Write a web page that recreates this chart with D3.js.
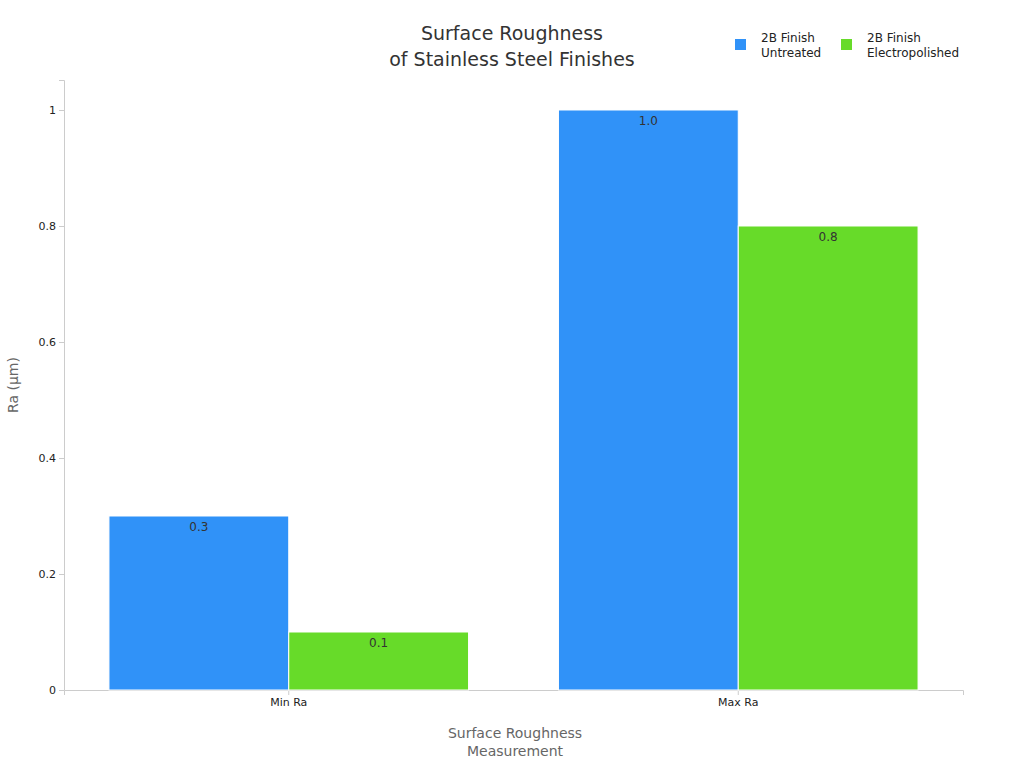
<!DOCTYPE html>
<html><head><meta charset="utf-8">
<script src="https://cdn.jsdelivr.net/npm/d3@7"></script>
<style>body{margin:0;background:#fff}text{font-family:"DejaVu Sans",sans-serif}</style>
</head><body><svg id="chart" width="1024" height="768"></svg>
<script>
const categories = ["Min Ra", "Max Ra"];
const seriesNames = ["2B Finish\nUntreated", "2B Finish\nElectropolished"];
const untreated = [0.3, 1.0];
const electropolished = [0.1, 0.8];
const yTicks = [0, 0.2, 0.4, 0.6, 0.8, 1];
const colors = ["#3092f8", "#67db29"];

const svg = d3.select("#chart");
const m = {l: 64, r: 963, t: 80, b: 690};

const x = d3.scaleBand().domain(categories).range([m.l, m.r]).paddingInner(0.2).paddingOuter(0.1);
const xs = d3.scaleBand().domain([0, 1]).range([0, x.bandwidth()]);
const y = d3.scaleLinear().domain([0, 1.0517]).range([m.b, m.t]);

// axes
const ya = svg.append("g").attr("transform", `translate(${m.l},0)`)
  .call(d3.axisLeft(y).tickValues(yTicks).tickSize(5).tickFormat(d3.format("~g")));
const xa = svg.append("g").attr("transform", `translate(0,${m.b})`)
  .call(d3.axisBottom(x).tickSize(5));
[ya, xa].forEach(a => {
  a.selectAll("path, line").attr("stroke", "#ccc");
  a.selectAll("text").attr("fill", "#222").style("font-size", "11px");
});

const series = [untreated, electropolished];
series.forEach((vals, si) => {
  const g = svg.append("g");
  g.selectAll("rect").data(vals).join("rect")
    .attr("x", (d, i) => x(categories[i]) + xs(si))
    .attr("width", xs.bandwidth())
    .attr("y", d => y(d))
    .attr("height", d => y(0) - y(d))
    .attr("fill", colors[si]).attr("stroke", "#fff").attr("stroke-width", 1);
  g.selectAll("text").data(vals).join("text")
    .attr("x", (d, i) => x(categories[i]) + xs(si) + xs.bandwidth() / 2)
    .attr("y", d => y(d) + 15)
    .attr("text-anchor", "middle").attr("fill", "#333").style("font-size", "12px")
    .text(d => d3.format(".1f")(d));
});

// title
svg.append("text").attr("x", 512).attr("y", 40).attr("text-anchor", "middle")
  .attr("fill", "#333").style("font-size", "19px").text("Surface Roughness");
svg.append("text").attr("x", 512).attr("y", 66).attr("text-anchor", "middle")
  .attr("fill", "#333").style("font-size", "19px").text("of Stainless Steel Finishes");

// axis titles
svg.append("text").attr("transform", "translate(18,385) rotate(-90)").attr("text-anchor", "middle")
  .attr("fill", "#666").style("font-size", "14px").text("Ra (µm)");
svg.append("text").attr("x", 515).attr("y", 738).attr("text-anchor", "middle")
  .attr("fill", "#666").style("font-size", "14px").text("Surface Roughness");
svg.append("text").attr("x", 515).attr("y", 756).attr("text-anchor", "middle")
  .attr("fill", "#666").style("font-size", "14px").text("Measurement");

// legend
const lx = [735, 841];
seriesNames.forEach((n, i) => {
  svg.append("rect").attr("x", lx[i]).attr("y", 39).attr("width", 11).attr("height", 11).attr("fill", colors[i]);
  n.split("\n").forEach((t, j) => {
    svg.append("text").attr("x", lx[i] + 26).attr("y", 42 + j * 15).attr("fill", "#222")
      .style("font-size", "12px").text(t);
  });
});
</script></body></html>
